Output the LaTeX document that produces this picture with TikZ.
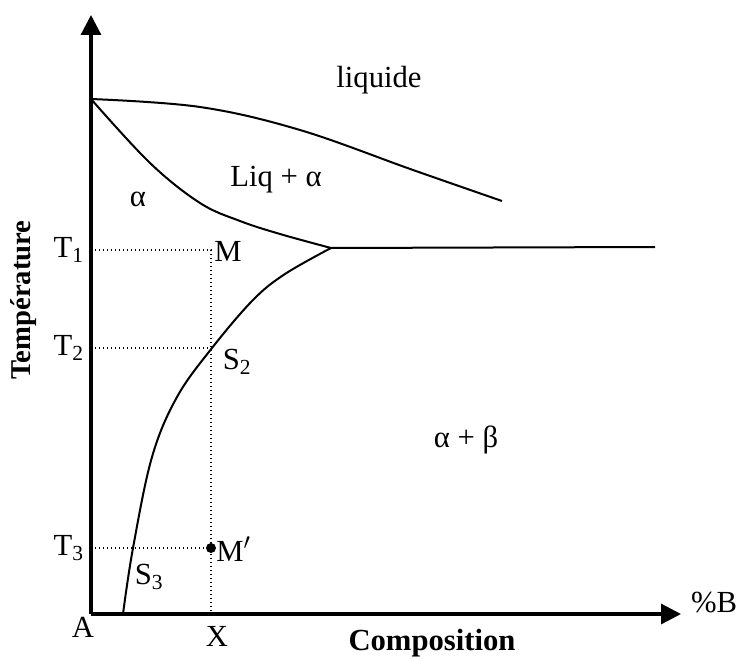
\documentclass[tikz,border=0pt]{standalone}
\usepackage{fontspec}
\setmainfont{Liberation Serif}
\usetikzlibrary{arrows.meta, positioning}

\tikzset{
    axis/.style={line width=2.4pt, -{Triangle[length=15pt, width=15pt]}},
    phaseline/.style={line width=1.5pt},
    guide/.style={line width=1pt, dotted},
    lbl/.style={font=\fontsize{23}{27}\selectfont, inner sep=0pt},
    axlbl/.style={font=\fontsize{23}{27}\selectfont\bfseries, inner sep=0pt},
}

\begin{document}
\begin{tikzpicture}[x=0.75pt, y=-0.75pt]

    \useasboundingbox (0,0) rectangle (741,659);

    % ==========================================
    % 1. AXES
    % ==========================================
    \coordinate (O) at (91,614);
    \coordinate (ytop) at (91,15);
    \coordinate (xend) at (681,614);
    \draw[axis] (O) -- (ytop);
    \draw[axis] (O) -- (xend);

    \node[axlbl, rotate=90, font=\fontsize{21.5}{26}\selectfont\bfseries] (temp) at (24,300) {Température};
    \node[axlbl] (compo) at (432,643) {Composition};
    \node[lbl] (pctB) at (714,602) {\%B};
    \node[lbl] (A) at (83,627) {A};

    % ==========================================
    % 2. PHASE BOUNDARIES
    % ==========================================
    \coordinate (TA) at (91,99);
    \coordinate (E) at (331,248);

    % liquidus
    \draw[phaseline] plot[smooth, tension=0.6] coordinates
        {(TA) (200,107) (300,130) (413,170) (502,201)};
    % solidus
    \draw[phaseline] plot[smooth, tension=0.6] coordinates
        {(TA) (150,163) (200,203) (240,221) (280,234) (E)};
    % solvus
    \draw[phaseline] plot[smooth, tension=0.6] coordinates
        {(123,614) (133,548) (152,457) (177,397) (212,348) (253,300) (285,274) (E)};
    % eutectic line
    \draw[phaseline] (E) -- (655,247);

    % ==========================================
    % 3. COOLING PATH AT COMPOSITION X
    % ==========================================
    \coordinate (M) at (211,250);
    \coordinate (S2) at (211,348);
    \coordinate (Mp) at (211,548);
    \coordinate (Xb) at (211,614);

    \draw[guide] (91,250) -- (M) -- (Xb);
    \draw[guide] (91,348) -- (S2);
    \draw[guide] (91,548) -- (Mp);
    \fill (Mp) circle (5);

    \node[lbl, anchor=east] (T1) at (84,250) {T\textsubscript{1}};
    \node[lbl, anchor=east] (T2) at (84,348) {T\textsubscript{2}};
    \node[lbl, anchor=east] (T3) at (84,548) {T\textsubscript{3}};

    \node[lbl, anchor=west] (Mlbl) at (214,251) {M};
    \node[lbl] (S2lbl) at (237,362) {S\textsubscript{2}};
    \node[lbl, anchor=west] (Mplbl) at (216,549) {M$^{\prime}$};
    \node[lbl] (S3lbl) at (149,577) {S\textsubscript{3}};
    \node[lbl] (X) at (217,636) {X};

    % ==========================================
    % 4. PHASE REGIONS
    % ==========================================
    \node[lbl] (liq) at (379,80) {liquide};
    \node[lbl] (liqa) at (276,180) {Liq + α};
    \node[lbl] (alpha) at (138,199) {α};
    \node[lbl] (ab) at (466,440) {α + β};

\end{tikzpicture}
\end{document}
